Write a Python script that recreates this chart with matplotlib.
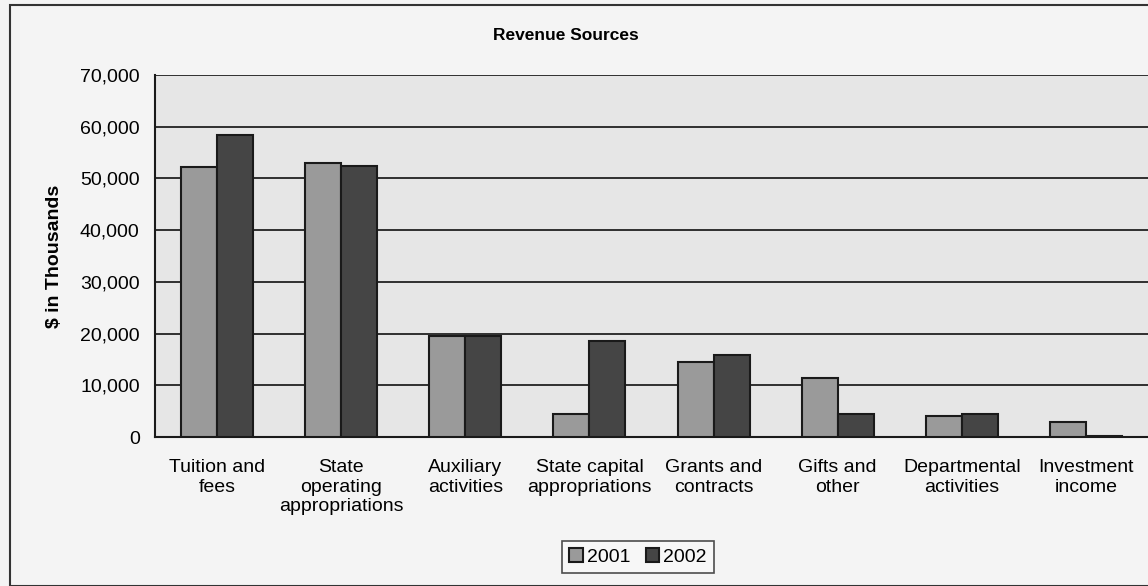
import matplotlib.pyplot as plt
import numpy as np
from matplotlib.patches import Rectangle

categories = ['Tuition and\nfees', 'State\noperating\nappropriations', 'Auxiliary\nactivities',
              'State capital\nappropriations', 'Grants and\ncontracts', 'Gifts and\nother',
              'Departmental\nactivities', 'Investment\nincome']
rev_2001 = [52200, 53000, 19500, 4400, 14500, 11400, 4100, 2900]
rev_2002 = [58400, 52400, 19500, 18600, 15800, 4400, 4400, 200]
yticks = [0, 10000, 20000, 30000, 40000, 50000, 60000, 70000]

plt.rcParams['font.family'] = ['Liberation Sans', 'DejaVu Sans']

fig = plt.figure(figsize=(11.48, 5.86), dpi=100)
fig.patch.set_facecolor('#f4f4f4')
fig.patches.append(Rectangle((10 / 1148, 0), 1.2, 1 - 5 / 586, transform=fig.transFigure,
                             fill=False, edgecolor='#333333', linewidth=1.5))

ax = fig.add_axes([155 / 1148, 1 - 437 / 586, 993 / 1148, 362 / 586])
ax.set_facecolor('#e6e6e6')

x = np.arange(len(categories))
w = 0.29
ax.bar(x - w / 2, rev_2001, w, color='#9a9a9a', edgecolor='#1a1a1a', linewidth=1.5, label='2001', zorder=3)
ax.bar(x + w / 2, rev_2002, w, color='#454545', edgecolor='#1a1a1a', linewidth=1.5, label='2002', zorder=3)

ax.set_xlim(-0.5, len(categories) - 0.5)
ax.set_ylim(0, 70000)
ax.set_yticks(yticks)
ax.set_yticklabels([f'{v:,}' for v in yticks], fontsize=14)
ax.set_xticks(x)
ax.set_xticklabels(categories, fontsize=14, linespacing=1.2)
ax.tick_params(axis='y', length=0, pad=11)
ax.tick_params(axis='x', length=0, pad=16)
ax.grid(axis='y', color='#303030', linewidth=1.4, zorder=1)

for s in ['top', 'right']:
    ax.spines[s].set_visible(False)
for s in ['left', 'bottom']:
    ax.spines[s].set_color('#1a1a1a')
    ax.spines[s].set_linewidth(1.5)

ax.set_ylabel('$ in Thousands', fontsize=14, fontweight='bold', labelpad=12)
fig.text(566 / 1148, 1 - 35 / 586, 'Revenue Sources', fontsize=12.5, fontweight='bold',
         ha='center', va='center')

leg = fig.legend(loc='center', bbox_to_anchor=(638 / 1148, 1 - 557 / 586), ncol=2,
                 fontsize=14, frameon=True, fancybox=False, edgecolor='#222222',
                 handlelength=0.7, handleheight=0.7, handletextpad=0.2, columnspacing=0.8,
                 borderpad=0.35)
leg.get_frame().set_linewidth(1.2)
leg.get_frame().set_facecolor('#f8f8f8')

fig.savefig('out.png', dpi=100, facecolor=fig.get_facecolor())
